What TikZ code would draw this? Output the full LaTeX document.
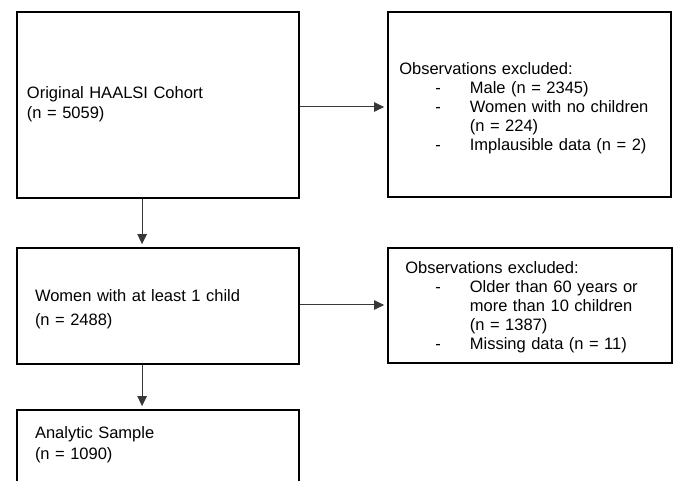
\documentclass[tikz,border=0pt]{standalone}
\usepackage{fontspec}
\setmainfont{Liberation Sans}
\usetikzlibrary{arrows.meta}
\newcommand{\topgap}[1]{\rule{0pt}{#1pt}}
\newcommand{\botgap}[1]{\rule[-#1pt]{0pt}{0pt}}
\newcommand{\itm}[2]{\hspace*{#1pt}\makebox[#2pt][l]{-}}
\begin{document}
\begin{tikzpicture}[x=1pt,y=-1pt,
  box/.style={draw=black, line width=1.8pt, align=left, inner ysep=0pt,
    font=\fontsize{16.5}{19}\selectfont},
  arr/.style={draw=black!78, line width=1pt, -{Triangle[length=10pt,width=9.5pt]}}]
\clip (0,0) rectangle (678,481);
\fill[white] (0,0) rectangle (678,481);
% boxes
\node[box, font=\fontsize{16.5}{20}\selectfont, text width=262pt, inner xsep=10pt, minimum height=186pt] (b1) at (158,105)
  {\topgap{14}Original HAALSI Cohort\\(n = 5059)\botgap{6}};
\node[box, text width=260.4pt, inner xsep=11.3pt, minimum height=185pt] (b2) at (529.5,104.5)
  {\topgap{20}Observations excluded:\\
   \itm{36}{34.6}Male (n = 2345)\\
   \itm{36}{34.6}Women with no children\\
   \hspace*{70.6pt}(n = 224)\\
   \itm{36}{34.6}Implausible data (n = 2)\botgap{4}};
\node[box, font=\fontsize{16.5}{24}\selectfont, text width=246pt, inner xsep=18pt, minimum height=116pt] (b3) at (158,306)
  {\topgap{20}Women with at least 1 child\\(n = 2488)\botgap{4}};
\node[box, text width=249.4pt, inner xsep=17.3pt, minimum height=115pt] (b4) at (530,305.5)
  {\topgap{17}Observations excluded:\\
   \itm{30}{34.6}Older than 60 years or\\
   \hspace*{64.6pt}more than 10 children\\
   \hspace*{64.6pt}(n = 1387)\\
   \itm{30}{34.6}Missing data (n = 11)\botgap{4}};
\node[box, font=\fontsize{16.5}{21}\selectfont, text width=246pt, inner xsep=18pt, minimum height=100pt] (b5) at (158,460)
  {\topgap{12}Analytic Sample\\(n = 1090)\botgap{35}};
% connectors
\draw[arr, shorten >=3pt] ([yshift=-2pt]b1.east) -- ([yshift=-2pt]b1.east -| b2.west);
\draw[arr, shorten >=3pt] ([yshift=1pt]b3.east) -- ([yshift=1pt]b3.east -| b4.west);
\draw[arr, shorten >=3pt] ([xshift=126pt]b1.south west) -- ([xshift=126pt]b3.north west);
\draw[arr, shorten >=3pt] ([xshift=126pt]b3.south west) -- ([xshift=126pt]b5.north west);
\end{tikzpicture}
\end{document}
